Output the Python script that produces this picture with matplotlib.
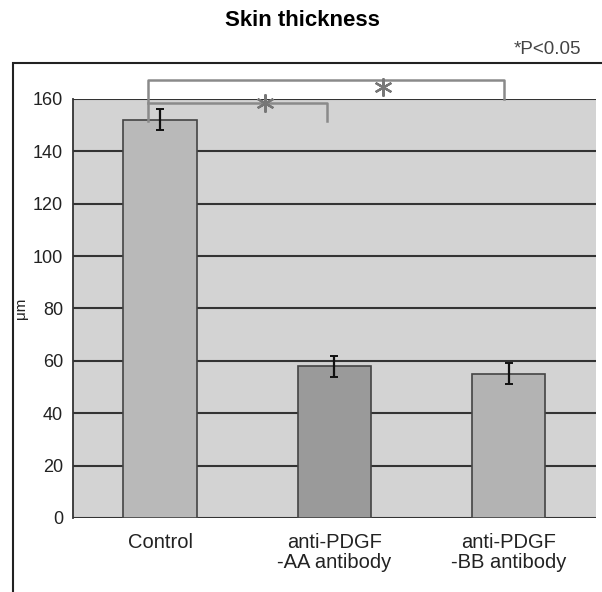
import matplotlib.pyplot as plt
import matplotlib.patches as mpatches
import numpy as np

plt.rcParams['font.family'] = ['Liberation Sans', 'DejaVu Sans']

groups = ['Control', 'anti-PDGF\n-AA antibody', 'anti-PDGF\n-BB antibody']
thickness = [152, 58, 55]
errors = [4, 4, 4]
bar_colors = ['#b9b9b9', '#9a9a9a', '#b3b3b3']
yticks = [0, 20, 40, 60, 80, 100, 120, 140, 160]

fig = plt.figure(figsize=(6.02, 5.92), dpi=100)
ax = fig.add_axes([0.121, 0.125, 0.869, 0.708])

# outer frame around the plot
frame = mpatches.Rectangle((0.0216, -0.01), 0.985, 0.904, transform=fig.transFigure,
                           fill=False, edgecolor='#222222', linewidth=1.5, zorder=0)
fig.patches.append(frame)

ax.set_facecolor('#d3d3d3')
x = np.arange(len(groups))
ax.bar(x, thickness, width=0.42, color=bar_colors, edgecolor='#444444', linewidth=1.2, zorder=3)
ax.errorbar(x, thickness, yerr=errors, fmt='none', ecolor='#111111', elinewidth=1.6,
            capsize=3, capthick=1.4, zorder=4)

ax.set_ylim(0, 160)
ax.set_xlim(-0.5, 2.5)
ax.set_yticks(yticks)
ax.set_xticks(x)
ax.set_xticklabels(groups, fontsize=14.5, linespacing=1.05)
ax.tick_params(axis='y', length=0, labelsize=13, pad=7, colors='#222222')
ax.tick_params(axis='x', length=0, pad=11, colors='#222222')
ax.yaxis.grid(True, color='#333333', linewidth=1.5, zorder=1)
ax.set_axisbelow(True)
for s in ['top', 'right', 'bottom']:
    ax.spines[s].set_visible(False)
ax.spines['left'].set_color('#333333')
ax.spines['left'].set_linewidth(1.3)
fig.text(21 / 602, 0.48, 'μm', rotation=90, ha='center', va='center', fontsize=11, color='#222222')

# significance brackets
bc = '#8a8a8a'
ax.plot([-0.07, -0.07, 1.97, 1.97], [151.5, 167.2, 167.2, 160], color=bc, lw=1.8, clip_on=False, zorder=5)
ax.plot([-0.07, 0.96, 0.96], [158.4, 158.4, 151.5], color=bc, lw=1.8, clip_on=False, zorder=5)
ax.plot([1.28, 0.6], [164.5, 158.6], linestyle='none', marker=(6, 2, 0), markersize=13,
        markeredgecolor='#777777', markeredgewidth=1.6, clip_on=False, zorder=6)

fig.text(0.502, 0.966, 'Skin thickness', ha='center', va='center', fontsize=16, fontweight='bold')
fig.text(0.965, 0.916, '*P<0.05', ha='right', va='center', fontsize=13.5, color='#444444')

fig.savefig('out.png', dpi=100)
